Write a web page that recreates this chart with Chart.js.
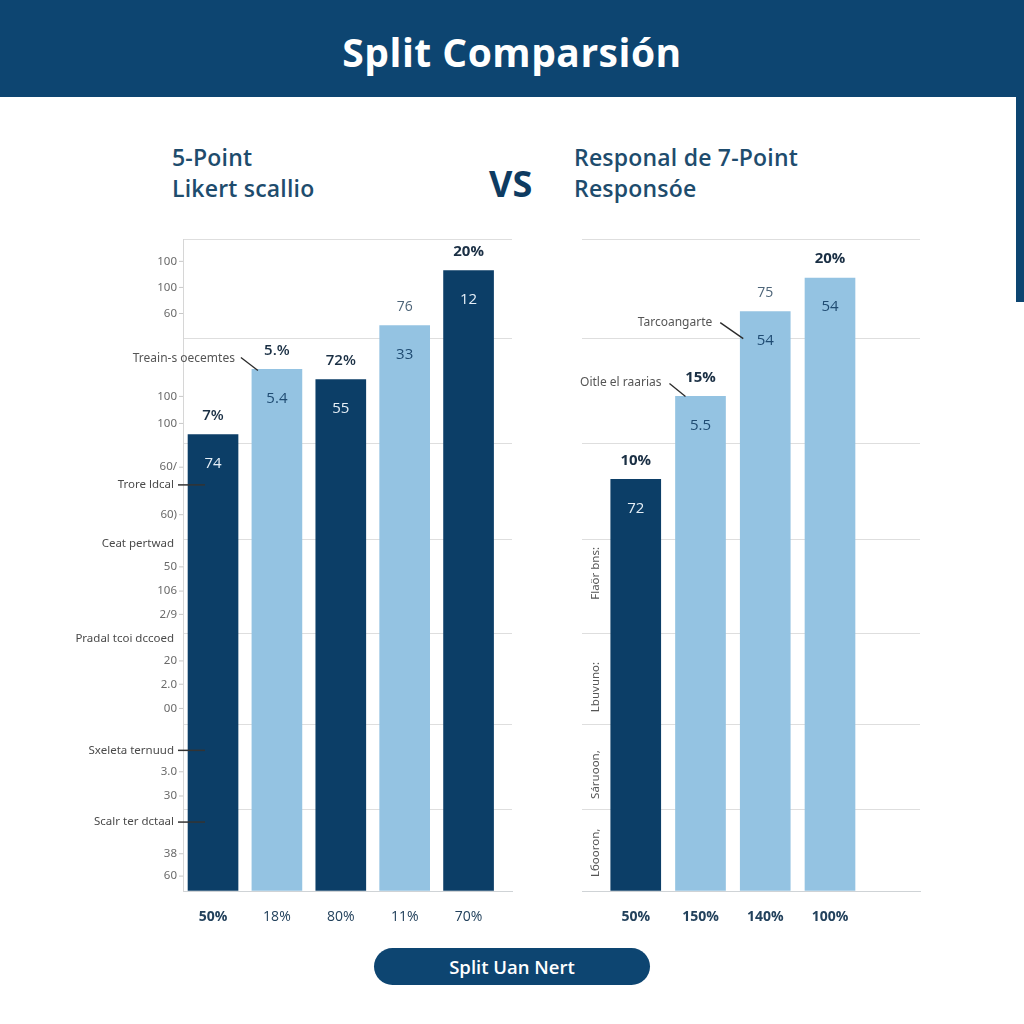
<!DOCTYPE html>
<html>
<head>
<meta charset="utf-8">
<script src="https://cdn.jsdelivr.net/npm/chart.js@4.4.1/dist/chart.umd.min.js"></script>
<style>
body { margin: 0; width: 1024px; height: 1024px; background: #fff; position: relative; overflow: hidden; font-family: "Open Sans", sans-serif; }
#header { position: absolute; left: 0; top: 0; width: 1024px; height: 97px; background: #0d4571; }
#header h1 { margin: 0; position: absolute; top: 26px; width: 100%; text-align: center; color: #fff; font-size: 39px; font-weight: 700; line-height: 52px; letter-spacing: 0.5px; }
#stripe { position: absolute; left: 1016px; top: 97px; width: 8px; height: 205px; background: #0d4571; }
.sub { position: absolute; color: #1e4c6d; font-size: 23px; font-weight: 600; line-height: 31px; letter-spacing: 0.2px; }
#vs { position: absolute; left: 489px; top: 162px; color: #0e3b61; font-size: 36px; font-weight: 700; line-height: 44px; }
.box { position: absolute; }
#btn { position: absolute; left: 374px; top: 948px; width: 276px; height: 37px; border-radius: 19px; background: #0d4571; color: #fff; text-align: center; font-size: 18.5px; font-weight: 600; line-height: 37px; }
</style>
</head>
<body>
<div id="header"><h1>Split Comparsión</h1></div>
<div id="stripe"></div>
<div class="sub" style="left:172px; top:142px;">5-Point<br>Likert scallio</div>
<div id="vs">VS</div>
<div class="sub" style="left:574px; top:142px;">Responal de 7-Point<br>Responsóe</div>
<div class="box" style="left:60px; top:200px; width:480px; height:740px;"><canvas id="leftChart"></canvas></div>
<div class="box" style="left:560px; top:200px; width:400px; height:740px;"><canvas id="rightChart"></canvas></div>
<div id="btn">Split Uan Nert</div>

<script>
/*==========| data |==========*/
const gridValues = [0, 8.7, 17.9, 27.6, 37.7, 48.0, 59.3, 70];

const leftXLabels = ['50%', '18%', '80%', '11%', '70%'];
const leftValues  = [49.0, 56.0, 54.9, 60.7, 66.6];
const leftTop     = ['7%', '5.%', '72%', '76', '20%'];
const leftInside  = ['74', '5.4', '55', '33', '12'];
const leftShade   = ['dark', 'light', 'dark', 'light', 'dark'];

const rightXLabels = ['50%', '150%', '140%', '100%'];
const rightValues  = [44.2, 53.1, 62.2, 65.8];
const rightTop     = ['10%', '15%', '75', '20%'];
const rightInside  = ['72', '5.5', '54', '54'];
const rightShade   = ['dark', 'light', 'light', 'light'];

const leftTickText = ['100', '100', '60', '100', '100', '60/', 'Trore ldcal', '60)', 'Ceat pertwad', '50', '106',
                      '2/9', 'Pradal tcoi dccoed', '20', '2.0', '00', 'Sxeleta ternuud', '3.0', '30', 'Scalr ter dctaal', '38', '60'];
const leftTickVals = [67.6, 64.8, 62.0, 53.1, 50.2, 45.5, 43.6, 40.4, 37.3, 34.8, 32.2,
                      29.7, 27.1, 24.7, 22.2, 19.6, 15.1, 12.8, 10.2, 7.4, 4.0, 1.6];
const leftDashed = ['Trore ldcal', 'Sxeleta ternuud', 'Scalr ter dctaal'];

const rightTickText = ['Flaör bns:', 'Lbuvuno:', 'Sáruoon,', 'Lбooron,'];
const rightTickVals = [34.1, 21.9, 12.5, 4.1];

const leftCallouts  = [{ text: 'Treain-s oecemtes', bar: 1 }];
const rightCallouts = [{ text: 'Tarcoangarte', bar: 2 }, { text: 'Oitle el raarias', bar: 1 }];

/*==========| styles |==========*/
const clrDark  = '#0c3e67';
const clrLight = '#94c3e2';
// [text right dx, text dy, line start dx, dy, line end dx, dy] relative to bar top-left
const leftCalloutGeo  = [[-17, -11, -11, -12, 6, 1]];
const rightCalloutGeo = [[-28, 11, -20, 11, 3, 27], [-14, -14, -6, -13, 10, 0]];
const leftTopFont  = ['600 15px "Open Sans"', '600 15px "Open Sans"', '600 15px "Open Sans"', '400 14px "Open Sans"', '700 15px "Open Sans"'];
const rightTopFont = ['700 15px "Open Sans"', '700 15px "Open Sans"', '400 14px "Open Sans"', '700 15px "Open Sans"'];

function barTextPlugin(top, inside, shade, fonts, callouts, geo) {
    return {
        id: 'barText',
        afterDatasetsDraw(chart) {
            const ctx = chart.ctx;
            const bars = chart.getDatasetMeta(0).data;
            ctx.save();
            ctx.textAlign = 'center';
            ctx.textBaseline = 'middle';
            bars.forEach((bar, i) => {
                ctx.font = fonts[i];
                ctx.fillStyle = fonts[i].startsWith('400') ? '#4d6478' : '#1a2f44';
                ctx.fillText(top[i], bar.x, bar.y - 19);
                ctx.font = '400 15px "Open Sans"';
                ctx.fillStyle = shade[i] === 'dark' ? '#e6eff7' : '#1f4b72';
                ctx.fillText(inside[i], bar.x, bar.y + 29);
            });
            callouts.forEach((c, k) => {
                const bar = bars[c.bar];
                const bx = bar.x - bar.width / 2, by = bar.y;
                const g = geo[k];
                ctx.font = '400 12px "Noto Sans"';
                ctx.fillStyle = '#555';
                ctx.textAlign = 'right';
                ctx.fillText(c.text, bx + g[0], by + g[1]);
                ctx.strokeStyle = '#2a2a2a';
                ctx.lineWidth = 1.3;
                ctx.beginPath();
                ctx.moveTo(bx + g[2], by + g[3]);
                ctx.lineTo(bx + g[4], by + g[5]);
                ctx.stroke();
            });
            ctx.restore();
        }
    };
}

const leftSidePlugin = {
    id: 'leftSide',
    afterDatasetsDraw(chart) {
        const ctx = chart.ctx, y = chart.scales.y, left = chart.chartArea.left;
        ctx.save();
        ctx.textAlign = 'right';
        ctx.textBaseline = 'middle';
        leftTickText.forEach((t, i) => {
            const py = y.getPixelForValue(leftTickVals[i]);
            const isWord = /[a-z]/i.test(t);
            ctx.font = '400 11.5px "Noto Sans"';
            ctx.fillStyle = isWord ? '#4a4a4a' : '#6a6a6a';
            ctx.fillText(t, left - (isWord ? 9 : 6), py);
            ctx.beginPath();
            if (leftDashed.includes(t)) {
                ctx.strokeStyle = '#333';
                ctx.lineWidth = 1.5;
                ctx.moveTo(left - 5, py);
                ctx.lineTo(left + 22, py);
            } else if (!isWord) {
                ctx.strokeStyle = '#c8c8c8';
                ctx.lineWidth = 1;
                ctx.moveTo(left - 4, py);
                ctx.lineTo(left, py);
            }
            ctx.stroke();
        });
        ctx.restore();
    }
};

const rightSidePlugin = {
    id: 'rightSide',
    afterDatasetsDraw(chart) {
        const ctx = chart.ctx, y = chart.scales.y, left = chart.chartArea.left;
        ctx.save();
        ctx.font = '400 11.5px "Noto Sans"';
        ctx.fillStyle = '#555';
        ctx.textAlign = 'center';
        ctx.textBaseline = 'middle';
        rightTickText.forEach((t, i) => {
            const py = y.getPixelForValue(rightTickVals[i]);
            ctx.save();
            ctx.translate(left + 14, py);
            ctx.rotate(-Math.PI / 2);
            ctx.fillText(t, 0, 0);
            ctx.restore();
        });
        ctx.restore();
    }
};

function makeChart(id, xLabels, values, shade, xMin, xMax, pad, yBorder, firstBoldOnly, plugins) {
    return new Chart(document.getElementById(id), {
        type: 'bar',
        data: {
            datasets: [{
                data: values.map((v, i) => ({ x: i, y: v })),
                backgroundColor: shade.map(s => s === 'dark' ? clrDark : clrLight),
                barThickness: 50,
                borderWidth: 0
            }]
        },
        options: {
            responsive: true,
            maintainAspectRatio: false,
            animation: false,
            layout: { padding: pad },
            plugins: { legend: { display: false }, tooltip: { enabled: false } },
            scales: {
                x: {
                    type: 'linear', min: xMin, max: xMax, offset: false,
                    afterBuildTicks: ax => { ax.ticks = xLabels.map((_, i) => ({ value: i })); },
                    afterFit: ax => { ax.height = 30; },
                    grid: { display: false, drawTicks: false, offset: false },
                    border: { color: '#cfd3d6' },
                    ticks: {
                        padding: 18, autoSkip: false, maxRotation: 0,
                        color: '#22415c',
                        font: c => ({ family: 'Open Sans', size: 14, weight: (!firstBoldOnly || c.index === 0) ? '700' : '400' }),
                        callback: v => xLabels[Math.round(v)]
                    }
                },
                y: {
                    min: 0, max: 70,
                    afterBuildTicks: ax => { ax.ticks = gridValues.map(v => ({ value: v })); },
                    afterFit: ax => { ax.width = 0; },
                    ticks: { display: false },
                    grid: { color: '#dedede', drawTicks: false },
                    border: { display: yBorder, color: '#d6d6d6' }
                }
            }
        },
        plugins: plugins
    });
}

makeChart('leftChart', leftXLabels, leftValues, leftShade, -0.47, 4.68,
    { left: 123, right: 28, top: 39, bottom: 19 }, true, true,
    [leftSidePlugin, barTextPlugin(leftTop, leftInside, leftShade, leftTopFont, leftCallouts, leftCalloutGeo)]);

makeChart('rightChart', rightXLabels, rightValues, rightShade, -0.83, 4.39,
    { left: 22, right: 40, top: 39, bottom: 19 }, false, false,
    [rightSidePlugin, barTextPlugin(rightTop, rightInside, rightShade, rightTopFont, rightCallouts, rightCalloutGeo)]);
</script>
</body>
</html>
